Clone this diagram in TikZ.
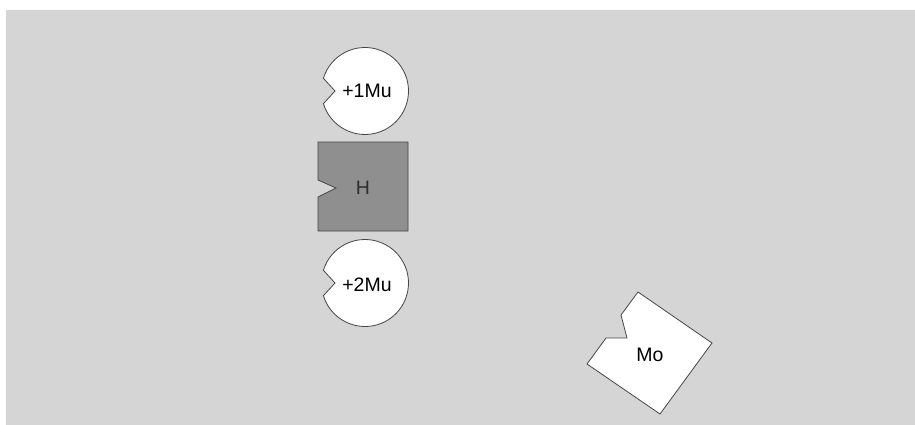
\documentclass[tikz,border=0pt]{standalone}
\usepackage{fontspec}
\setmainfont{Liberation Sans}
\usetikzlibrary{calc}
\definecolor{FondoGris}{RGB}{213,213,213}
\definecolor{PiezaGris}{RGB}{143,143,143}
\definecolor{Borde}{RGB}{70,70,70}
\definecolor{TextoOscuro}{RGB}{45,45,45}
\tikzset{
  pieza/.style={draw=Borde, line width=0.8pt, fill=white, line join=miter},
  piezaosc/.style={pieza, fill=PiezaGris},
  etiqueta/.style={font=\fontsize{19.5}{22}\selectfont, inner sep=0pt},
}

\begin{document}
\begin{tikzpicture}[x=1pt, y=-1pt]
  \useasboundingbox (0,0) rectangle (915,425);
  \fill[FondoGris] (6,10) rectangle (915,425);
  % ---- piezas redondas con muesca ----
  \coordinate (centroA) at (365,91);
  \coordinate (centroB) at (365,283);
  \draw[pieza] ($(centroA)+(197:43.5)$) arc[start angle=197, end angle=523, radius=43.5]
    -- ($(centroA)+(-30,0)$) -- cycle;
  \draw[pieza] ($(centroB)+(197:43.5)$) arc[start angle=197, end angle=523, radius=43.5]
    -- ($(centroB)+(-30,0)$) -- cycle;
  % ---- pieza cuadrada ----
  \draw[piezaosc] (318,142) -- (408,142) -- (408,231) -- (318,231) -- (318,197)
    -- (336,188) -- (318,180) -- cycle;
  % ---- pieza girada ----
  \draw[pieza] (638,292) -- (712,343) -- (660,414) -- (587,364) -- (606,338)
    -- (627,338) -- (621,315) -- cycle;
  \node[etiqueta] (masuno) at (367,91) {+1Mu};
  \node[etiqueta] (masdos) at (367,285) {+2Mu};
  \node[etiqueta, text=TextoOscuro] (hache) at (363,188) {H};
  \node[etiqueta] (mo) at (650,355) {Mo};
\end{tikzpicture}
\end{document}
